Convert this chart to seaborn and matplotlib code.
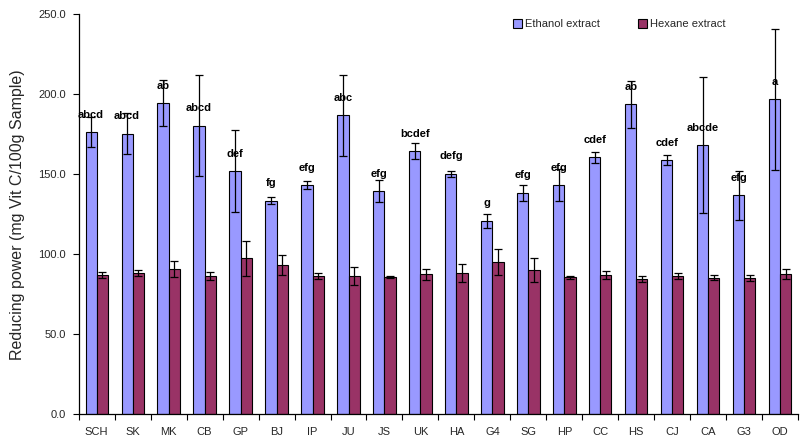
import numpy as np
import pandas as pd
import matplotlib
matplotlib.use("Agg")
import matplotlib.pyplot as plt
import seaborn as sns
from matplotlib.ticker import FormatStrFormatter, FixedLocator

samples = ["SCH", "SK", "MK", "CB", "GP", "BJ", "IP", "JU", "JS", "UK",
           "HA", "G4", "SG", "HP", "CC", "HS", "CJ", "CA", "G3", "OD"]
ethanol = [176.2, 175.4, 194.4, 180.4, 151.9, 133.5, 143.1, 186.9, 139.4, 164.4,
           150.2, 120.8, 138.3, 143.1, 160.6, 193.7, 158.7, 168.1, 136.9, 196.9]
ethanol_err = [9.4, 13.0, 14.2, 31.5, 25.8, 2.2, 2.5, 25.2, 7.0, 5.0,
               1.7, 4.6, 5.0, 10.0, 3.5, 14.7, 3.2, 42.5, 15.3, 44.1]
hexane = [86.9, 88.1, 90.6, 86.2, 97.5, 93.1, 86.2, 86.2, 85.6, 87.5,
          88.1, 95.0, 90.0, 85.6, 86.9, 84.4, 86.2, 85.4, 85.0, 87.5]
hexane_err = [1.8, 1.9, 5.0, 2.4, 11.0, 6.3, 1.9, 5.7, 0.5, 3.5,
              5.6, 8.0, 7.5, 1.0, 2.5, 1.8, 1.9, 1.8, 1.9, 3.1]
letters = ["abcd", "abcd", "ab", "abcd", "def", "fg", "efg", "abc", "efg", "bcdef",
           "defg", "g", "efg", "efg", "cdef", "ab", "cdef", "abcde", "efg", "a"]
series = ["Ethanol extract", "Hexane extract"]
colors = ["#9999FF", "#993366"]

df = pd.DataFrame({
    "sample": samples * 2,
    "value": ethanol + hexane,
    "extract": [series[0]] * len(samples) + [series[1]] * len(samples),
})

sns.set_theme(style="white")
plt.rcParams["font.family"] = ["Liberation Sans", "DejaVu Sans"]

fig = plt.figure(figsize=(8.03, 4.44), dpi=100)
ax = fig.add_axes([0.098, 0.067, 0.896, 0.901])

sns.barplot(data=df, x="sample", y="value", hue="extract", order=samples,
            hue_order=series, palette=colors, width=0.62, gap=0,
            edgecolor="black", linewidth=0.8, saturation=1, ax=ax, errorbar=None)

errs = [ethanol_err, hexane_err]
vals = [ethanol, hexane]
handles = []
bar_conts = list(ax.containers)
for ci, cont in enumerate(bar_conts):
    xs = [p.get_x() + p.get_width() / 2 for p in cont.patches]
    ax.errorbar(xs, vals[ci], yerr=errs[ci], fmt="none", ecolor="black",
                elinewidth=0.9, capsize=3, capthick=0.9, zorder=5)
    handles.append(cont.patches[0])
    if ci == 0:
        for x, v, lab in zip(xs, vals[ci], letters):
            ax.annotate(lab, (x, v), xytext=(0, 9), textcoords="offset points",
                        ha="center", va="bottom", fontsize=8, fontweight="bold",
                        color="black")

if ax.get_legend() is not None:
    ax.get_legend().remove()
fig.legend(handles, series, loc="upper left", bbox_to_anchor=(0.639, 0.957),
           bbox_transform=fig.transFigure,
           ncol=2, frameon=False, fontsize=8, handlelength=0.8, handleheight=0.8,
           handletextpad=0.3, columnspacing=3.4, borderpad=0, borderaxespad=0)

ax.set_xlim(-0.5, len(samples) - 0.5)
ax.set_ylim(0, 250)
ax.set_yticks([0, 50, 100, 150, 200, 250])
ax.yaxis.set_major_formatter(FormatStrFormatter("%.1f"))
ax.set_xlabel("")
ax.set_ylabel("Reducing power (mg Vit C/100g Sample)", fontsize=11.5, labelpad=10)

ax.xaxis.set_minor_locator(FixedLocator(np.arange(-0.5, len(samples), 1.0)))
ax.tick_params(axis="x", which="major", length=0, labelsize=8, pad=9)
ax.tick_params(axis="x", which="minor", length=4, width=0.8, direction="out", color="black", bottom=True)
ax.tick_params(axis="y", which="major", length=4, width=0.8, direction="out", color="black",
               left=True, labelsize=8, pad=5)

for s in ["top", "right"]:
    ax.spines[s].set_visible(False)
for s in ["left", "bottom"]:
    ax.spines[s].set_color("black")
    ax.spines[s].set_linewidth(0.9)
ax.grid(False)

fig.savefig("out.png", dpi=100, facecolor="white")
